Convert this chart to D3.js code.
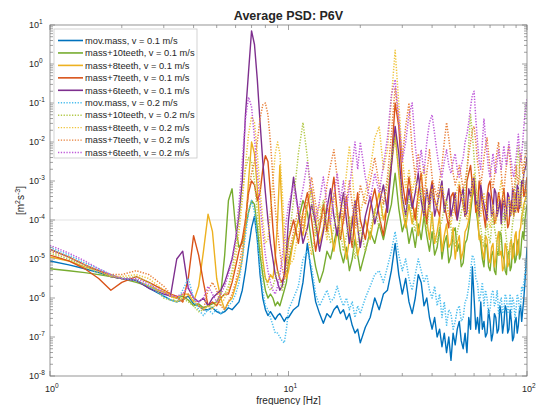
<!DOCTYPE html>
<html lang="en">
<head>
<meta charset="utf-8">
<title>Average PSD: P6V</title>
<script src="https://d3js.org/d3.v7.min.js"></script>
<style>
  body { margin: 0; background: #fff; }
  text { font-family: "Liberation Sans", Arial, Helvetica, sans-serif; fill: #262626; }
</style>
</head>
<body>
<div id="container"></div>
<script>
width = 536;
height = 405;
margin = ({top: 25, right: 9, bottom: 29, left: 50});

// frequency grid [Hz]
freq = [1, 1.2, 1.4, 1.6, 1.8, 2, 2.3, 2.6, 3, 3.2,
  3.4, 3.6, 3.8, 4, 4.2, 4.4, 4.6, 4.8, 5, 5.2,
  5.4, 5.6, 5.8, 6, 6.2, 6.4, 6.6, 6.8, 7, 7.2,
  7.4, 7.6, 7.8, 8, 8.2, 8.4, 8.6, 8.8, 9, 9.2,
  9.4, 9.6, 9.8, 10, 10.5, 11, 11.5, 12, 12.5, 13,
  13.5, 14, 14.5, 15, 15.5, 16, 16.5, 17, 17.5, 18,
  18.5, 19, 19.5, 20, 21, 22, 23, 24, 25, 26,
  27, 28, 29, 30, 31, 32, 33, 34, 35, 36,
  37, 38, 39, 40, 41, 42, 43, 44, 45, 46,
  47, 48, 49, 50, 51, 52, 53, 54, 55, 56,
  57, 58, 59, 60, 61, 62, 63, 64, 65, 66,
  67, 68, 69, 70, 71, 72, 73, 74, 75, 76,
  77, 78, 79, 80, 81, 82, 83, 84, 85, 86,
  87, 88, 89, 90, 91, 92, 93, 94, 95, 96,
  97, 98, 99, 100];

// PSD values as log10 of [m^2 s^-3]
movMass01 = [-5.05, -5.15, -5.25, -5.35, -5.45, -5.5, -5.55, -5.75, -5.95, -6.05,
  -6.1, -6.05, -5.95, -6.15, -6.2, -6.3, -6.3, -6.25, -6.35, -6.4,
  -6.35, -6.25, -6.3, -6.2, -6.1, -5.8, -5.3, -4.7, -4.2, -3.9,
  -4.5, -5.4, -6.0, -6.3, -6.45, -6.35, -6.45, -6.55, -6.45, -6.4,
  -6.5, -6.6, -6.5, -6.5, -6.3, -6.2, -5.6, -4.6, -5.4, -6.1,
  -6.4, -6.65, -6.4, -6.5, -6.3, -6.2, -6.4, -6.3, -6.55, -6.4,
  -6.7, -6.9, -6.8, -7.15, -6.75, -6.5, -6.0, -6.3, -5.9, -5.8,
  -5.3, -4.6, -5.4, -5.9, -5.5, -6.1, -6.4, -6.0, -5.4, -5.6,
  -6.2, -6.0, -6.5, -6.8, -6.5, -7.0, -6.8, -7.25, -6.9, -7.4,
  -7.0, -7.6, -6.9, -7.2, -6.8, -6.6, -7.1, -7.3, -6.9, -7.4,
  -6.5, -6.8, -5.2, -6.0, -6.8, -6.5, -6.9, -6.1, -6.8, -6.6,
  -7.0, -6.9, -6.3, -6.6, -7.1, -6.9, -6.4, -6.5, -6.9, -6.8,
  -6.2, -6.4, -6.9, -6.65, -6.2, -6.3, -6.9, -6.8, -6.3, -6.6,
  -7.1, -7.0, -6.6, -6.5, -6.9, -6.7, -6.3, -6.2, -6.6, -6.3,
  -6.0, -5.6, -5.2, -4.7];
tenTeeth01 = [-5.25, -5.3, -5.35, -5.4, -5.45, -5.5, -5.6, -5.7, -5.85, -5.95,
  -6.0, -5.95, -6.05, -6.2, -6.15, -6.25, -6.2, -6.15, -6.1, -5.9,
  -4.9, -3.5, -3.2, -4.2, -4.7, -4.6, -4.2, -3.8, -3.5, -3.6,
  -4.2, -4.9, -5.4, -5.8, -6.0, -5.9, -6.0, -6.2, -6.1, -6.2,
  -6.0, -5.8, -5.6, -5.1, -4.5, -4.0, -3.5, -3.8, -4.6, -5.2,
  -5.6, -5.3, -4.8, -5.0, -4.6, -4.2, -4.8, -5.1, -4.7, -5.3,
  -5.0, -4.5, -4.9, -5.3, -4.8, -4.3, -4.6, -4.1, -4.5, -4.0,
  -3.6, -2.8, -3.7, -4.3, -4.0, -4.6, -4.2, -4.7, -4.1, -4.5,
  -3.9, -4.4, -4.8, -4.3, -4.9, -4.7, -4.2, -5.0, -4.6, -4.4,
  -5.1, -4.9, -4.3, -4.2, -4.8, -4.6, -5.2, -5.1, -4.6, -4.5,
  -4.2, -3.8, -3.4, -3.2, -3.7, -4.0, -4.4, -4.6, -5.0, -5.2,
  -4.6, -4.7, -5.2, -5.3, -4.9, -4.8, -5.3, -5.4, -4.8, -4.9,
  -4.3, -4.4, -4.9, -5.0, -5.3, -5.4, -4.9, -4.8, -5.3, -5.2,
  -4.7, -4.6, -5.1, -5.0, -4.6, -4.5, -5.0, -4.9, -4.5, -4.3,
  -4.5, -4.0, -3.8, -3.6];
eightTeeth01 = [-4.95, -5.05, -5.2, -5.3, -5.4, -5.5, -5.55, -5.7, -5.85, -5.95,
  -6.0, -5.9, -5.9, -6.1, -5.7, -4.8, -3.85, -4.3, -5.5, -6.0,
  -6.3, -6.1, -6.0, -5.7, -5.4, -5.0, -4.2, -3.0, -2.0, -2.3,
  -3.2, -4.2, -5.0, -5.5, -5.6, -5.4, -5.5, -5.0, -4.0, -2.6,
  -3.8, -5.0, -5.5, -5.3, -4.5, -4.0, -4.4, -3.6, -3.2, -4.0,
  -4.6, -4.2, -3.6, -4.1, -4.8, -4.3, -3.8, -4.4, -5.0, -4.5,
  -3.9, -4.4, -4.9, -4.6, -4.0, -4.5, -3.8, -3.3, -4.0, -3.6,
  -2.6, -1.8, -2.8, -3.7, -4.2, -3.6, -4.1, -3.7, -4.4, -3.9,
  -3.4, -4.0, -4.5, -3.8, -4.6, -4.3, -3.9, -4.8, -4.4, -4.1,
  -4.7, -4.6, -4.2, -5.0, -4.6, -4.4, -5.0, -4.8, -4.3, -4.2,
  -4.0, -3.6, -3.3, -3.0, -3.5, -3.8, -4.5, -4.4, -4.8, -5.0,
  -4.4, -4.5, -5.0, -5.1, -4.7, -4.6, -5.2, -5.0, -4.5, -4.3,
  -4.9, -4.8, -5.3, -5.2, -4.6, -4.7, -5.2, -5.1, -4.6, -4.5,
  -5.0, -4.9, -4.4, -4.3, -4.9, -4.8, -4.3, -4.2, -3.9, -3.8,
  -3.6, -3.5, -3.4, -3.2];
sevenTeeth01 = [-4.9, -5.05, -5.25, -5.5, -5.8, -5.6, -5.45, -5.6, -5.8, -5.9,
  -5.95, -6.1, -5.5, -4.4, -4.9, -5.6, -6.2, -6.1, -6.2, -6.0,
  -5.9, -5.9, -5.6, -5.2, -4.8, -4.5, -4.0, -3.3, -3.0, -3.1,
  -3.5, -3.3, -2.7, -2.35, -2.5, -3.3, -4.2, -4.9, -5.3, -5.5,
  -5.6, -5.4, -5.0, -4.5, -4.0, -4.6, -3.8, -3.3, -4.0, -4.8,
  -4.2, -3.6, -4.3, -3.5, -2.9, -3.8, -4.5, -4.0, -3.4, -4.2,
  -4.7, -3.9, -3.3, -4.0, -4.5, -3.7, -3.2, -3.9, -4.4, -3.5,
  -2.5, -1.0, -1.6, -3.0, -3.6, -2.9, -3.5, -4.0, -3.3, -2.8,
  -3.6, -4.1, -3.4, -3.0, -3.5, -3.7, -3.9, -3.2, -3.6, -3.9,
  -4.2, -3.4, -3.3, -3.8, -4.0, -3.1, -3.4, -3.6, -3.9, -3.0,
  -2.8, -2.6, -3.1, -3.2, -3.8, -3.7, -3.0, -3.3, -3.6, -3.9,
  -4.2, -3.4, -3.1, -3.0, -3.4, -3.6, -4.1, -4.0, -3.6, -3.3,
  -3.5, -3.8, -3.4, -3.2, -3.6, -3.7, -4.2, -4.1, -3.7, -3.5,
  -3.6, -3.9, -3.5, -3.3, -3.7, -3.8, -3.5, -3.4, -3.1, -3.0,
  -3.4, -3.3, -3.1, -2.9];
sixTeeth01 = [-4.75, -4.95, -5.15, -5.3, -5.45, -5.5, -5.55, -5.75, -5.9, -5.95,
  -5.0, -4.8, -5.75, -6.0, -6.1, -6.0, -6.2, -6.0, -5.9, -5.8,
  -5.6, -5.3, -5.0, -4.5, -3.9, -3.0, -1.3, -0.2, 0.85, 0.5,
  -0.4, -1.5, -2.5, -3.3, -4.0, -4.6, -5.0, -5.4, -5.6, -5.8,
  -5.7, -5.4, -4.8, -4.0, -2.9, -3.8, -4.6, -4.2, -3.6, -4.1,
  -4.8, -4.3, -3.7, -3.2, -3.9, -4.4, -3.8, -3.3, -4.0, -4.6,
  -4.1, -3.5, -4.2, -4.7, -3.9, -3.4, -4.1, -3.6, -3.1, -3.8,
  -2.6, -1.6, -2.3, -3.4, -3.9, -3.2, -3.7, -3.3, -2.8, -3.5,
  -3.9, -3.2, -3.7, -3.1, -3.9, -3.6, -3.3, -3.0, -3.8, -3.5,
  -3.2, -3.9, -3.6, -3.3, -4.0, -3.7, -3.4, -3.2, -3.9, -3.8,
  -3.2, -3.4, -3.0, -2.9, -3.6, -3.5, -3.9, -3.1, -3.4, -3.6,
  -3.8, -4.0, -3.3, -3.4, -3.9, -3.8, -3.2, -3.3, -3.9, -3.7,
  -3.5, -4.1, -3.6, -3.5, -4.0, -3.9, -3.3, -3.4, -3.9, -3.8,
  -3.2, -3.3, -3.8, -3.7, -3.1, -3.2, -3.7, -3.6, -3.0, -3.1,
  -2.8, -2.7, -2.6, -2.4];
movMass02 = [-4.7, -4.9, -5.1, -5.25, -5.4, -5.5, -5.55, -5.7, -5.95, -6.05,
  -6.1, -5.8, -5.5, -6.0, -6.3, -6.45, -6.3, -6.4, -6.3, -6.4,
  -6.3, -6.2, -6.1, -5.9, -5.6, -5.0, -4.4, -3.8, -3.5, -3.8,
  -4.5, -5.2, -5.8, -6.2, -6.3, -6.5, -6.7, -6.9, -6.9, -7.0,
  -7.1, -7.15, -6.8, -6.3, -6.0, -5.7, -5.0, -4.8, -5.2, -5.9,
  -6.2, -6.0, -5.8, -6.1, -6.0, -5.7, -6.0, -6.2, -6.0, -6.3,
  -6.1, -6.5, -6.2, -6.4, -6.0, -5.7, -5.4, -5.3, -5.6, -5.2,
  -4.8, -4.3, -4.9, -5.3, -5.0, -5.5, -5.8, -5.4, -5.0, -5.3,
  -5.6, -5.4, -5.8, -6.0, -5.7, -6.2, -5.9, -6.5, -6.1, -6.7,
  -6.3, -6.4, -6.8, -6.6, -6.3, -6.2, -6.6, -6.5, -6.1, -6.0,
  -5.7, -5.3, -4.9, -5.0, -5.5, -5.6, -6.1, -5.9, -5.6, -6.2,
  -5.8, -6.0, -6.4, -6.3, -5.9, -5.8, -6.2, -6.1, -5.8, -6.4,
  -6.1, -6.0, -6.4, -6.3, -5.9, -6.0, -6.4, -6.2, -5.9, -6.4,
  -6.0, -6.1, -6.5, -6.3, -5.9, -6.0, -6.3, -6.2, -5.7, -5.8,
  -5.6, -5.4, -5.3, -5.0];
tenTeeth02 = [-4.85, -5.0, -5.2, -5.35, -5.45, -5.5, -5.45, -5.6, -6.0, -6.05,
  -6.1, -6.0, -6.1, -6.2, -6.35, -6.3, -6.2, -6.25, -6.1, -6.0,
  -5.9, -5.7, -5.3, -4.7, -4.0, -3.3, -2.7, -2.4, -2.5, -3.0,
  -3.8, -4.6, -5.2, -5.5, -5.7, -5.8, -5.7, -5.5, -5.3, -5.5,
  -5.8, -5.6, -5.2, -4.6, -3.5, -2.3, -1.5, -2.4, -3.6, -4.4,
  -4.0, -3.5, -4.1, -4.6, -4.2, -3.7, -4.3, -4.8, -4.4, -3.9,
  -4.5, -5.0, -4.6, -4.2, -4.8, -4.3, -3.7, -4.2, -3.6, -3.1,
  -2.4, -1.9, -2.7, -3.5, -4.0, -3.4, -3.9, -4.3, -3.7, -3.2,
  -3.8, -4.3, -3.6, -4.1, -4.4, -4.6, -4.2, -4.0, -3.7, -3.5,
  -3.9, -4.2, -4.5, -4.7, -4.3, -4.1, -3.8, -3.6, -3.2, -2.8,
  -2.0, -1.3, -1.8, -2.4, -3.1, -3.6, -4.0, -4.2, -4.5, -4.7,
  -4.3, -4.1, -4.4, -4.6, -4.2, -3.9, -4.2, -4.4, -4.7, -4.9,
  -4.6, -4.3, -4.0, -3.8, -4.2, -4.5, -4.8, -5.0, -4.7, -4.4,
  -4.1, -3.9, -3.3, -2.9, -2.4, -2.1, -2.7, -3.2, -3.7, -4.1,
  -3.8, -3.6, -3.5, -3.4];
eightTeeth02 = [-4.75, -4.95, -5.15, -5.3, -5.45, -5.45, -5.4, -5.5, -5.8, -5.95,
  -6.1, -6.0, -5.9, -6.1, -6.2, -6.3, -6.2, -6.3, -6.1, -6.2,
  -6.0, -5.8, -5.5, -5.0, -4.3, -3.5, -2.6, -1.8, -1.35, -1.5,
  -2.3, -3.2, -4.0, -4.6, -4.5, -3.8, -3.0, -2.3, -2.0, -2.3,
  -3.2, -4.2, -4.9, -5.2, -5.0, -4.3, -3.8, -4.4, -4.9, -4.2,
  -3.6, -4.0, -4.5, -3.9, -3.3, -3.9, -4.4, -3.6, -2.8, -2.1,
  -2.8, -3.7, -4.3, -3.8, -3.3, -2.7, -1.9, -1.6, -2.7, -2.2,
  -0.9, 0.35, -1.0, -2.4, -3.2, -2.7, -3.3, -2.9, -3.6, -3.1,
  -2.6, -3.3, -3.8, -3.2, -3.5, -3.7, -3.3, -3.1, -3.4, -3.6,
  -3.9, -4.1, -3.8, -3.5, -3.2, -3.0, -3.3, -3.6, -3.8, -4.0,
  -3.7, -3.4, -3.0, -2.8, -3.1, -3.4, -3.7, -3.9, -3.5, -3.3,
  -3.6, -3.8, -4.0, -4.2, -3.9, -3.6, -3.9, -4.1, -3.8, -3.5,
  -3.2, -3.0, -3.3, -3.6, -3.8, -4.0, -3.7, -3.4, -3.7, -3.9,
  -3.6, -3.3, -3.6, -3.8, -3.5, -3.2, -3.5, -3.7, -3.4, -3.1,
  -2.8, -2.5, -2.5, -2.6];
sevenTeeth02 = [-4.8, -4.95, -5.15, -5.3, -5.4, -5.4, -5.3, -5.4, -5.7, -5.9,
  -6.0, -6.1, -5.9, -6.0, -6.2, -6.3, -5.8, -5.6, -5.8, -6.2,
  -6.3, -6.1, -5.9, -5.6, -5.2, -4.7, -4.0, -3.3, -2.8, -2.5,
  -2.0, -1.4, -1.05, -1.0, -1.3, -2.0, -2.9, -3.7, -4.3, -4.8,
  -5.2, -5.5, -5.3, -4.9, -4.3, -3.7, -4.2, -3.5, -2.9, -3.6,
  -4.2, -3.8, -3.1, -2.6, -2.2, -2.9, -3.6, -4.1, -3.5, -3.0,
  -3.6, -4.2, -3.7, -3.1, -3.6, -3.0, -2.4, -3.1, -3.6, -2.9,
  -1.8, -0.6, -1.5, -2.4, -1.6, -1.0, -2.2, -2.9, -2.3, -2.9,
  -3.4, -2.8, -2.2, -2.9, -3.2, -3.4, -3.0, -2.6, -2.0, -1.5,
  -1.9, -2.4, -2.8, -3.1, -2.9, -2.6, -2.9, -3.2, -3.0, -2.7,
  -2.3, -2.0, -1.7, -1.6, -2.0, -2.5, -2.8, -3.1, -2.8, -2.4,
  -2.1, -1.9, -2.3, -2.7, -3.0, -3.2, -2.9, -2.5, -2.2, -2.0,
  -2.4, -2.8, -3.1, -3.3, -2.9, -2.6, -2.3, -2.1, -2.5, -2.9,
  -3.2, -3.4, -3.0, -2.6, -2.9, -3.1, -2.7, -2.3, -2.5, -2.8,
  -2.6, -2.4, -2.3, -2.2];
sixTeeth02 = [-4.65, -4.85, -5.05, -5.25, -5.4, -5.5, -5.5, -5.65, -5.85, -5.95,
  -5.95, -5.9, -5.7, -6.0, -6.1, -6.0, -5.7, -5.9, -6.1, -5.9,
  -5.7, -5.4, -5.0, -4.5, -3.6, -2.5, -1.4, -0.85, -1.1, -1.9,
  -2.8, -3.6, -4.3, -4.9, -5.3, -5.6, -5.8, -5.9, -5.7, -5.4,
  -5.0, -4.5, -4.0, -3.6, -3.1, -3.8, -3.2, -2.5, -3.3, -4.0,
  -3.5, -2.9, -3.6, -4.1, -3.4, -2.8, -3.5, -3.0, -3.7, -3.2,
  -2.6, -2.0, -2.7, -2.0, -2.9, -3.5, -2.8, -3.3, -2.6, -1.9,
  -0.8, -0.4, -1.4, -2.5, -2.0, -1.3, -1.0, -2.1, -2.8, -2.2,
  -2.8, -2.0, -1.5, -1.3, -1.8, -2.3, -2.7, -2.9, -2.5, -2.2,
  -2.6, -2.8, -2.5, -2.3, -2.7, -2.9, -2.6, -2.4, -2.0, -1.8,
  -1.5, -1.1, -0.8, -0.7, -1.4, -2.0, -2.5, -2.7, -2.0, -1.4,
  -1.9, -2.3, -2.7, -2.9, -2.6, -2.3, -2.6, -2.8, -2.5, -2.2,
  -2.5, -2.7, -2.4, -2.1, -2.4, -2.6, -2.3, -2.0, -2.3, -2.5,
  -2.8, -2.9, -2.6, -2.4, -2.1, -1.8, -2.2, -2.5, -2.3, -2.0,
  -1.6, -1.3, -1.1, -0.9];

labels = ["mov.mass, v = 0.1 m/s", "mass+10teeth, v = 0.1 m/s", "mass+8teeth, v = 0.1 m/s",
  "mass+7teeth, v = 0.1 m/s", "mass+6teeth, v = 0.1 m/s", "mov.mass, v = 0.2 m/s",
  "mass+10teeth, v = 0.2 m/s", "mass+8teeth, v = 0.2 m/s", "mass+7teeth, v = 0.2 m/s",
  "mass+6teeth, v = 0.2 m/s"];
colors = ["#0072BD", "#77AC30", "#EDB120", "#D95319", "#7E2F8E",
  "#4DBEEE", "#B3C94A", "#EFC53F", "#E8803A", "#BF5AD9"];
allSeries = [movMass01, tenTeeth01, eightTeeth01, sevenTeeth01, sixTeeth01,
  movMass02, tenTeeth02, eightTeeth02, sevenTeeth02, sixTeeth02];

series = allSeries.map((vals, i) => ({
  label: labels[i],
  color: colors[i],
  dotted: i >= 5,
  points: vals.map((v, j) => [freq[j], Math.pow(10, v)])
}));

x = d3.scaleLog().domain([1, 100]).range([margin.left, width - margin.right]);
y = d3.scaleLog().domain([1e-8, 10]).range([height - margin.bottom, margin.top]);

const svg = d3.select("#container").append("svg")
    .attr("width", width)
    .attr("height", height);

svg.append("clipPath").attr("id", "clip")
  .append("rect")
    .attr("x", x(1)).attr("y", y(10))
    .attr("width", x(100) - x(1)).attr("height", y(1e-8) - y(10));

// single gridline at 1e-4
svg.append("line")
    .attr("x1", x(1)).attr("x2", x(100))
    .attr("y1", y(1e-4)).attr("y2", y(1e-4))
    .attr("stroke", "#dcdcdc").attr("stroke-width", 0.8);

const line = d3.line().x(d => x(d[0])).y(d => y(d[1]));

svg.append("g").attr("clip-path", "url(#clip)")
  .selectAll("path")
  .data(series)
  .join("path")
    .attr("d", d => line(d.points))
    .attr("fill", "none")
    .attr("stroke", d => d.color)
    .attr("stroke-width", d => d.dotted ? 1.5 : 1.4)
    .attr("stroke-dasharray", d => d.dotted ? "1.3,1.5" : null)
    .attr("stroke-linejoin", "round");

// axes box
const axisColor = "#7a7a7a";
svg.append("rect")
    .attr("x", x(1)).attr("y", y(10))
    .attr("width", x(100) - x(1)).attr("height", y(1e-8) - y(10))
    .attr("fill", "none").attr("stroke", axisColor).attr("stroke-width", 0.8);

const isMajor = v => Math.abs(Math.log10(v) - Math.round(Math.log10(v))) < 1e-9;
const xt = x.ticks();
const yt = y.ticks(20);
const ticks = svg.append("g").attr("stroke", axisColor).attr("stroke-width", 0.7);
ticks.selectAll(".xb").data(xt).join("line")
    .attr("x1", d => x(d)).attr("x2", d => x(d))
    .attr("y1", y(1e-8)).attr("y2", d => y(1e-8) - (isMajor(d) ? 5 : 3));
ticks.selectAll(".xt").data(xt).join("line")
    .attr("x1", d => x(d)).attr("x2", d => x(d))
    .attr("y1", y(10)).attr("y2", d => y(10) + (isMajor(d) ? 5 : 3));
ticks.selectAll(".yl").data(yt).join("line")
    .attr("y1", d => y(d)).attr("y2", d => y(d))
    .attr("x1", x(1)).attr("x2", d => x(1) + (isMajor(d) ? 5 : 3));
ticks.selectAll(".yr").data(yt).join("line")
    .attr("y1", d => y(d)).attr("y2", d => y(d))
    .attr("x1", x(100)).attr("x2", d => x(100) - (isMajor(d) ? 5 : 3));

// tick labels 10^n
function powLabel(sel, exp) {
  sel.append("tspan").text("10");
  sel.append("tspan").attr("dy", -4).attr("font-size", 6.5).text(exp);
}
[0, 1, 2].forEach(k => {
  const t = svg.append("text")
      .attr("x", x(Math.pow(10, k)) - 5).attr("y", height - margin.bottom + 16)
      .attr("font-size", 9);
  powLabel(t, k);
});
d3.range(-8, 2).forEach(k => {
  const t = svg.append("text")
      .attr("x", x(1) - 21).attr("y", y(Math.pow(10, k)) + 3)
      .attr("font-size", 9);
  powLabel(t, k);
});

// title and axis labels
svg.append("text")
    .attr("x", (x(1) + x(100)) / 2).attr("y", 20)
    .attr("text-anchor", "middle")
    .attr("font-size", 12.5).attr("font-weight", "bold")
    .attr("fill", "#000")
    .text("Average PSD: P6V");

svg.append("text")
    .attr("x", (x(1) + x(100)) / 2).attr("y", height - 1)
    .attr("text-anchor", "middle").attr("font-size", 10)
    .text("frequency [Hz]");

const yl = svg.append("text")
    .attr("transform", `translate(24,${(y(10) + y(1e-8)) / 2}) rotate(-90)`)
    .attr("text-anchor", "middle").attr("font-size", 10);
yl.append("tspan").text("[m");
yl.append("tspan").attr("dy", -4).attr("font-size", 7).text("2");
yl.append("tspan").attr("dy", 4).text("s");
yl.append("tspan").attr("dy", -4).attr("font-size", 7).text("-3");
yl.append("tspan").attr("dy", 4).text("]");

// legend
const lg = svg.append("g").attr("transform", "translate(54,29)");
lg.append("rect")
    .attr("width", 143).attr("height", 129)
    .attr("fill", "#fff").attr("stroke", "#c8c8c8").attr("stroke-width", 0.8);
const rows = lg.selectAll("g").data(series).join("g")
    .attr("transform", (d, i) => `translate(0,${11.5 + i * 12.45})`);
rows.append("line")
    .attr("x1", 4).attr("x2", 29)
    .attr("stroke", d => d.color)
    .attr("stroke-width", d => d.dotted ? 1.4 : 1.6)
    .attr("stroke-dasharray", d => d.dotted ? "1.3,1.5" : null);
rows.append("text")
    .attr("x", 31).attr("dy", "0.35em")
    .attr("font-size", 9.3)
    .text(d => d.label);
</script>
</body>
</html>
